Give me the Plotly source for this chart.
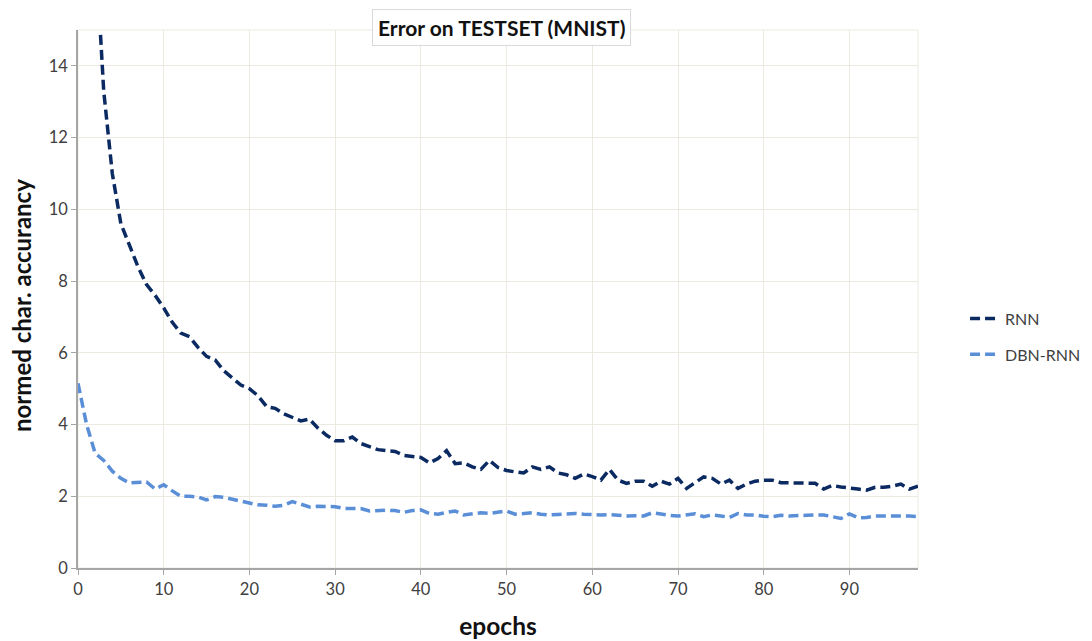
import plotly.graph_objects as go

epochs = list(range(0, 99))

rnn = [32.0, 23.0, 17.5, 13.3, 11.0, 9.6, 9.0, 8.4, 7.9, 7.6,
       7.25, 6.85, 6.55, 6.45, 6.15, 5.9, 5.8, 5.5, 5.3, 5.1,
       5.0, 4.8, 4.5, 4.45, 4.3, 4.2, 4.1, 4.15, 3.9, 3.7,
       3.55, 3.55, 3.65, 3.47, 3.38, 3.3, 3.27, 3.25, 3.14, 3.12,
       3.08, 2.93, 3.05, 3.27, 2.91, 2.93, 2.82, 2.75, 3.0, 2.8,
       2.72, 2.68, 2.65, 2.82, 2.75, 2.82, 2.65, 2.6, 2.5, 2.62,
       2.55, 2.45, 2.75, 2.45, 2.36, 2.42, 2.42, 2.28, 2.42, 2.34,
       2.5, 2.22, 2.38, 2.54, 2.5, 2.34, 2.45, 2.22, 2.34, 2.42,
       2.45, 2.45, 2.38, 2.38, 2.38, 2.36, 2.36, 2.2, 2.3, 2.26,
       2.22, 2.2, 2.17, 2.25, 2.25, 2.28, 2.34, 2.2, 2.28]

dbn_rnn = [5.15, 4.0, 3.2, 3.0, 2.7, 2.5, 2.37, 2.38, 2.4, 2.2,
           2.32, 2.15, 2.0, 2.0, 1.98, 1.9, 1.99, 1.97, 1.92, 1.87,
           1.8, 1.76, 1.75, 1.72, 1.75, 1.85, 1.78, 1.7, 1.72, 1.72,
           1.71, 1.66, 1.66, 1.66, 1.59, 1.61, 1.61, 1.6, 1.55, 1.6,
           1.62, 1.52, 1.5, 1.55, 1.59, 1.48, 1.52, 1.54, 1.52, 1.55,
           1.59, 1.5, 1.52, 1.54, 1.5, 1.48, 1.49, 1.5, 1.52, 1.5,
           1.48, 1.48, 1.49, 1.46, 1.45, 1.46, 1.45, 1.54, 1.5, 1.47,
           1.45, 1.48, 1.51, 1.43, 1.48, 1.45, 1.41, 1.52, 1.48, 1.48,
           1.44, 1.43, 1.47, 1.45, 1.45, 1.47, 1.48, 1.48, 1.43, 1.38,
           1.51, 1.4, 1.41, 1.45, 1.45, 1.46, 1.45, 1.45, 1.43]

x_ticks = [0, 10, 20, 30, 40, 50, 60, 70, 80, 90]
y_ticks = [0, 2, 4, 6, 8, 10, 12, 14]

FONT = "Lato, 'Open Sans', sans-serif"
GRID = "#ece9e0"
AXIS = "#a6a6a6"
TXT = "#404040"

fig = go.Figure()
fig.add_trace(go.Scatter(x=epochs, y=rnn, mode="lines", name="RNN",
                         legendgroup="a",
                         line=dict(color="#0b2a62", width=3.5, dash="10px,5px")))
fig.add_trace(go.Scatter(x=epochs, y=dbn_rnn, mode="lines", name="DBN-RNN",
                         legendgroup="b",
                         line=dict(color="#5a8fd8", width=3.5, dash="10px,5px")))

fig.update_layout(
    width=1092, height=641,
    margin=dict(l=70, r=182, t=22, b=81, autoexpand=False),
    paper_bgcolor="white", plot_bgcolor="white",
    font=dict(family=FONT, color=TXT, size=16),
    showlegend=True,
    legend=dict(x=1.056, y=0.43, xanchor="left", yanchor="middle",
                font=dict(size=16, color=TXT), tracegroupgap=12,
                bgcolor="rgba(0,0,0,0)"),
    xaxis=dict(range=[0, 98], tickvals=x_ticks, showgrid=True, gridcolor=GRID,
               gridwidth=1, zeroline=False, showline=True, linecolor=AXIS,
               linewidth=1.5, ticks="outside", ticklen=5, tickcolor=AXIS,
               tickfont=dict(size=16.5, color=TXT),
               title=dict(text="<b>epochs</b>", font=dict(size=24.5, color="#111"),
                          standoff=20)),
    yaxis=dict(range=[0, 15], tickvals=y_ticks, showgrid=True, gridcolor=GRID,
               gridwidth=1, zeroline=False, showline=True, linecolor=AXIS,
               linewidth=1.5, ticks="outside", ticklen=5, tickcolor=AXIS,
               tickfont=dict(size=16.5, color=TXT)),
    shapes=[dict(type="rect", xref="paper", yref="paper", x0=0, x1=1, y0=0, y1=1,
                 line=dict(color=GRID, width=1), layer="below")],
    annotations=[
        dict(text="<b>Error on TESTSET (MNIST)</b>", xref="paper", yref="paper",
             x=0.5, y=1.0, xanchor="center", yanchor="middle", yshift=3, xshift=3,
             showarrow=False, bgcolor="white", bordercolor="#d9d9d9",
             borderwidth=1, borderpad=5,
             font=dict(size=21, color="#111", family=FONT)),
        dict(text="<b>normed char. accurancy</b>", xref="paper", yref="paper",
             x=0, y=0.487, xanchor="center", yanchor="middle", xshift=-56,
             textangle=-90, showarrow=False,
             font=dict(size=24, color="#111", family=FONT)),
    ],
)

fig.write_html("out.html")
